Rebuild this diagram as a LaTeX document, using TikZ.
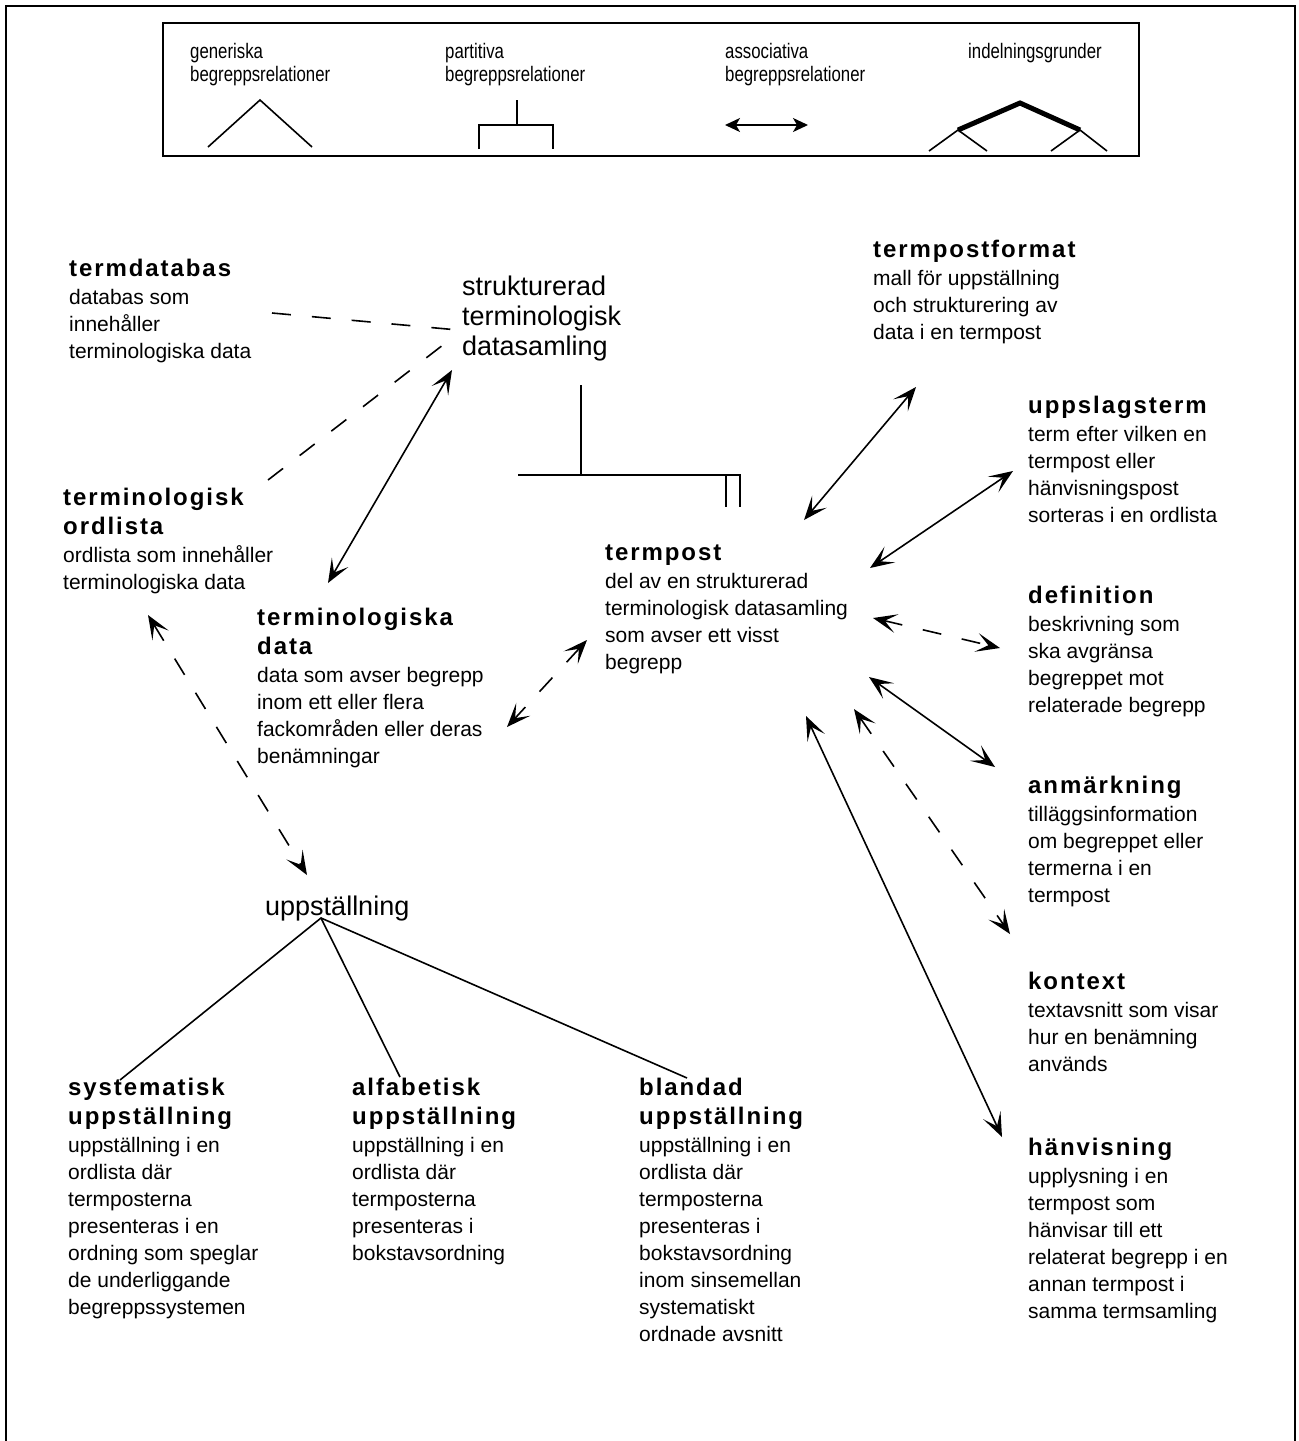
\documentclass[tikz,border=0pt]{standalone}
\usepackage{fontspec}
\setmainfont{Liberation Sans}
\newfontfamily\ttlfam{Liberation Sans}[LetterSpace=8]
\newfontfamily\legfam{Liberation Sans}[FakeStretch=0.8]
\usetikzlibrary{arrows.meta}
\newcommand\ttl{\fontsize{24}{27}\ttlfam\bfseries}
\newcommand\bodyf{\fontsize{21}{27}\selectfont}
\newcommand\bigf{\fontsize{27}{30}\selectfont}
\newcommand\legf{\fontsize{21}{23.5}\legfam}
\newcommand\cpt[2]{\begin{tabular}[t]{@{}l@{}}#1\\[1pt]#2\end{tabular}}
\newcommand\lines[1]{\begin{tabular}[t]{@{}l@{}}#1\end{tabular}}
\tikzset{
  concept/.style={anchor=base west, inner sep=0pt, font=\bodyf},
  bigterm/.style={anchor=base west, inner sep=0pt, font=\bigf},
  legtext/.style={anchor=base west, inner sep=0pt, font=\legf},
  rel/.style={line width=1.6pt},
  assoc/.style={rel, {Stealth[length=24pt,width=19pt,inset=12pt]}-{Stealth[length=24pt,width=19pt,inset=12pt]}},
  dashrel/.style={dash pattern=on 19pt off 21pt},
  frame/.style={line width=2pt},
}
\begin{document}
\begin{tikzpicture}[x=1pt,y=-1pt]
\useasboundingbox (0,0) rectangle (1299,1441);
% outer frame
\draw[frame] (6,1441) -- (6,6) -- (1295,6) -- (1295,1441);
% legend
\draw[line width=1.8pt] (163,23) rectangle (1139,156);
\node[legtext] (lg1) at (190,58) {\lines{generiska\\begreppsrelationer}};
\node[legtext] (lg2) at (445,58) {\lines{partitiva\\begreppsrelationer}};
\node[legtext] (lg3) at (725,58) {\lines{associativa\\begreppsrelationer}};
\node[legtext] (lg4) at (968,58) {indelningsgrunder};
\draw[rel] (208,147) -- (260,100) -- (312,147);
\draw[rel] (517,100) -- (517,125);
\draw[rel] (479,149) -- (479,125) -- (553,125) -- (553,149);
\draw[rel, {Stealth[length=15pt,width=14pt,inset=4pt]}-{Stealth[length=15pt,width=14pt,inset=4pt]}] (725,125) -- (808,125);
\draw[line width=5pt, line join=miter] (958,130) -- (1020,103) -- (1080,130);
\draw[rel] (929,151) -- (958,130) -- (987,151);
\draw[rel] (1051,151) -- (1080,130) -- (1107,151);

% concepts
\node[concept] (tdb) at (69,276) {\cpt{{\ttl termdatabas}}{databas som\\innehåller\\terminologiska data}};
\node[bigterm] (std) at (462,295) {\begin{tabular}[t]{@{}l@{}}strukturerad\\terminologisk\\datasamling\end{tabular}};
\node[concept] (tpf) at (873,257) {\cpt{{\ttl termpostformat}}{mall för uppställning\\och strukturering av\\data i en termpost}};
\node[concept] (ups) at (1028,413) {\cpt{{\ttl uppslagsterm}}{term efter vilken en\\termpost eller\\hänvisningspost\\sorteras i en ordlista}};
\node[concept] (tol) at (63,505) {\cpt{{\ttl terminologisk}\\[2pt]{\ttl ordlista}}{ordlista som innehåller\\terminologiska data}};
\node[concept] (tda) at (257,625) {\cpt{{\ttl terminologiska}\\[2pt]{\ttl data}}{data som avser begrepp\\inom ett eller flera\\fackområden eller deras\\benämningar}};
\node[concept] (tp) at (605,560) {\cpt{{\ttl termpost}}{del av en strukturerad\\terminologisk datasamling\\som avser ett visst\\begrepp}};
\node[concept] (def) at (1028,603) {\cpt{{\ttl definition}}{beskrivning som\\ska avgränsa\\begreppet mot\\relaterade begrepp}};
\node[concept] (anm) at (1028,793) {\cpt{{\ttl anmärkning}}{tilläggsinformation\\om begreppet eller\\termerna i en\\termpost}};
\node[concept] (kon) at (1028,989) {\cpt{{\ttl kontext}}{textavsnitt som visar\\hur en benämning\\används}};
\node[concept] (hv) at (1028,1155) {\cpt{{\ttl hänvisning}}{upplysning i en\\termpost som\\hänvisar till ett\\relaterat begrepp i en\\annan termpost i\\samma termsamling}};
\node[bigterm] (upp) at (265,915) {uppställning};
\node[concept] (sys) at (68,1095) {\cpt{{\ttl systematisk}\\[2pt]{\ttl uppställning}}{uppställning i en\\ordlista där\\termposterna\\presenteras i en\\ordning som speglar\\de underliggande\\begreppssystemen}};
\node[concept] (alf) at (352,1095) {\cpt{{\ttl alfabetisk}\\[2pt]{\ttl uppställning}}{uppställning i en\\ordlista där\\termposterna\\presenteras i\\bokstavsordning}};
\node[concept] (bla) at (639,1095) {\cpt{{\ttl blandad}\\[2pt]{\ttl uppställning}}{uppställning i en\\ordlista där\\termposterna\\presenteras i\\bokstavsordning\\inom sinsemellan\\systematiskt\\ordnade avsnitt}};

% connector end points
\coordinate (tdbE) at (272,313); \coordinate (stdW1) at (458,330);
\coordinate (tolE) at (268,480); \coordinate (stdW2) at (452,338);
\coordinate (stdS) at (452,370); \coordinate (tdaN) at (328,583);
\coordinate (stdP) at (581,385); \coordinate (pL) at (518,475); \coordinate (pR) at (740,475);
\coordinate (tpN) at (804,520); \coordinate (tpfS) at (916,387);
\coordinate (tpNE) at (870,568); \coordinate (upsW) at (1013,471);
\coordinate (tpE1) at (873,618); \coordinate (defW) at (1000,648);
\coordinate (tpE2) at (869,677); \coordinate (anmW) at (995,767);
\coordinate (tpE3) at (854,709); \coordinate (konW) at (1010,934);
\coordinate (tpS) at (806,716); \coordinate (hvW) at (1002,1137);
\coordinate (tpW) at (587,640); \coordinate (tdaE) at (507,727);
\coordinate (tolS) at (148,615); \coordinate (uppN) at (307,875);
\coordinate (uppS) at (321,918); \coordinate (sysN) at (120,1080);
\coordinate (alfN) at (400,1077); \coordinate (blaN) at (687,1078);

% connectors
\draw[rel, dashrel] (tdbE) -- (stdW1);
\draw[rel, dashrel] (tolE) -- (stdW2);
\draw[assoc] (stdS) -- (tdaN);
\draw[rel] (stdP) -- (581,475);
\draw[rel] (pL) -- (pR) -- (740,507);
\draw[rel] (726,475) -- (726,507);
\draw[assoc] (tpfS) -- (tpN);
\draw[assoc] (upsW) -- (tpNE);
\draw[assoc, dashrel] (tpE1) -- (defW);
\draw[assoc] (tpE2) -- (anmW);
\draw[assoc, dashrel] (tpE3) -- (konW);
\draw[assoc] (tpS) -- (hvW);
\draw[assoc, dashrel] (tpW) -- (tdaE);
\draw[assoc, dashrel] (tolS) -- (uppN);
\draw[rel] (sysN) -- (uppS) -- (blaN);
\draw[rel] (uppS) -- (alfN);
\end{tikzpicture}
\end{document}
